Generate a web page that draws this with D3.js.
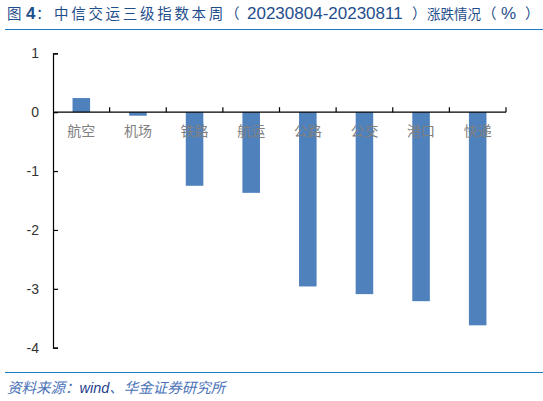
<!DOCTYPE html>
<html>
<head>
<meta charset="utf-8">
<script src="https://cdn.jsdelivr.net/npm/d3@7"></script>
<style>
body { margin: 0; background: #fff; }
</style>
</head>
<body>
<div id="chart"></div>
<script>
var categories = ["航空", "机场", "铁路", "航运", "公路", "公交", "港口", "快递"];
var values = [0.24, -0.06, -1.25, -1.37, -2.96, -3.09, -3.21, -3.62];
var yTicks = [1, 0, -1, -2, -3, -4];

var svg = d3.select("#chart")
            .append("svg")
            .attr("width", 543)
            .attr("height", 401);

var cjk = "'Noto Sans CJK SC', 'Liberation Sans', sans-serif";
var latin = "'Liberation Sans', Arial, sans-serif";

// title: pieces placed one by one, the original has uneven spacing
var title = svg.append("text")
               .attr("y", 19)
               .attr("font-family", cjk)
               .attr("font-size", 14.5)
               .attr("fill", "#1f4e8c");
title.append("tspan").attr("x", 7).text("图");
title.append("tspan").attr("x", 26).attr("font-family", latin).attr("font-size", 17).attr("font-weight", "bold").text("4");
title.append("tspan").attr("x", 36).text("：");
title.append("tspan").attr("x", 54).attr("letter-spacing", 2.7).text("中信交运三级指数本周");
title.append("tspan").attr("x", 225).text("（");
title.append("tspan").attr("x", 247).attr("font-family", latin).attr("font-size", 17).text("20230804-20230811");
title.append("tspan").attr("x", 412).text("）");
title.append("tspan").attr("x", 427).attr("font-size", 13.5).text("涨跌情况");
title.append("tspan").attr("x", 482).text("（");
title.append("tspan").attr("x", 501).attr("font-family", latin).attr("font-size", 17).text("%");
title.append("tspan").attr("x", 525).text("）");

svg.append("line")
   .attr("x1", 5).attr("x2", 543)
   .attr("y1", 29.5).attr("y2", 29.5)
   .attr("stroke", "#1a7dc4")
   .attr("stroke-width", 1.2);

var x = d3.scaleBand()
          .domain(categories)
          .range([53, 506])
          .paddingInner(0.69)
          .paddingOuter(0.345);

var y = d3.scaleLinear()
          .domain([-4, 1])
          .range([347.7, 53.3]);

// bars
svg.selectAll("rect.bar")
   .data(values)
   .enter()
   .append("rect")
   .attr("class", "bar")
   .attr("x", function(d, i) { return x(categories[i]); })
   .attr("width", x.bandwidth())
   .attr("y", function(d) { return y(Math.max(0, d)); })
   .attr("height", function(d) { return Math.abs(y(d) - y(0)); })
   .attr("fill", "#4f81bd");

// y axis
var yAxis = svg.append("g")
               .attr("transform", "translate(53,0)")
               .call(d3.axisRight(y).tickValues(yTicks).tickSize(5)
                       .tickFormat(function(d) { return String(d); }));
yAxis.select(".domain").attr("stroke", "#000").attr("stroke-width", 1.2);
yAxis.selectAll(".tick line").attr("stroke", "#000").attr("stroke-width", 1.2);
yAxis.selectAll(".tick text")
     .attr("x", -14)
     .attr("text-anchor", "end")
     .attr("font-family", latin)
     .attr("font-size", 14)
     .attr("fill", "#333");

// x axis along zero
var xEdges = d3.range(categories.length + 1).map(function(i) { return 53 + i * (506 - 53) / categories.length; });
svg.append("line")
   .attr("x1", 53).attr("x2", 506)
   .attr("y1", y(0)).attr("y2", y(0))
   .attr("stroke", "#000")
   .attr("stroke-width", 1.2);
svg.selectAll("line.xtick")
   .data(xEdges.slice(1))
   .enter()
   .append("line")
   .attr("class", "xtick")
   .attr("x1", function(d) { return d; })
   .attr("x2", function(d) { return d; })
   .attr("y1", y(0))
   .attr("y2", y(0) - 5)
   .attr("stroke", "#000")
   .attr("stroke-width", 1.2);

svg.selectAll("text.cat")
   .data(categories)
   .enter()
   .append("text")
   .attr("class", "cat")
   .attr("x", function(d) { return x(d) + x.bandwidth() / 2; })
   .attr("y", y(0) + 24)
   .attr("text-anchor", "middle")
   .attr("font-family", cjk)
   .attr("font-size", 14)
   .attr("fill", "#808080")
   .text(function(d) { return d; });

// source
svg.append("line")
   .attr("x1", 5).attr("x2", 543)
   .attr("y1", 372.5).attr("y2", 372.5)
   .attr("stroke", "#1a7dc4")
   .attr("stroke-width", 1.2);

var src = svg.append("text")
             .attr("x", 7)
             .attr("y", 393)
             .attr("font-family", cjk)
             .attr("font-size", 14.5)
             .attr("font-style", "italic");
src.append("tspan").attr("fill", "#4a72b8").text("资料来源：");
src.append("tspan").attr("fill", "#1f3f8f").attr("font-family", latin).text("wind");
src.append("tspan").attr("fill", "#4a72b8").text("、华金证券研究所");
</script>
</body>
</html>
